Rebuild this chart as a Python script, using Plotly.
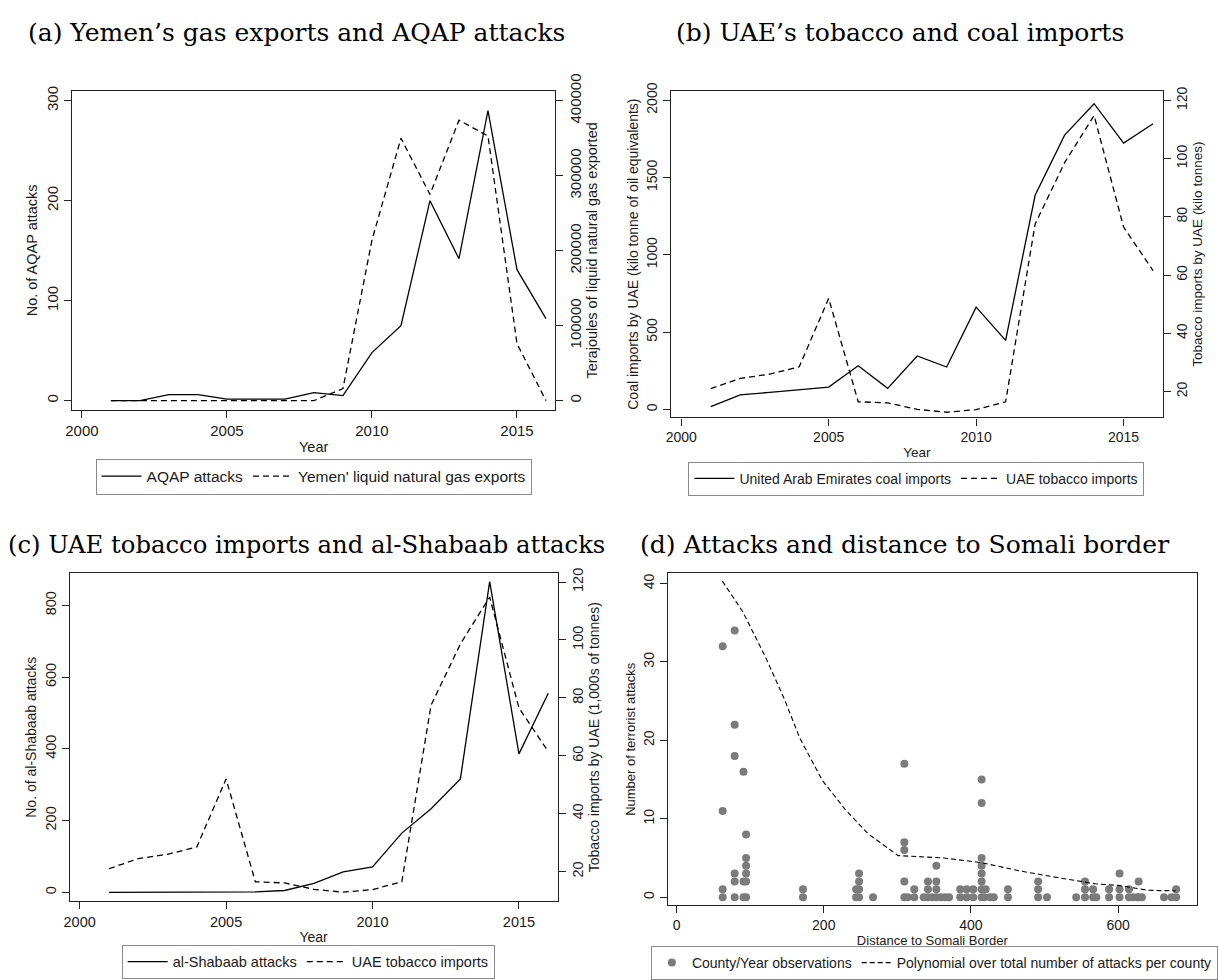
import plotly.graph_objects as go

W, H = 1218, 980

years = list(range(2001, 2017))

# (a) Yemen
aqap_attacks = [0, 0, 6, 6, 1.5, 1.5, 1.5, 8, 5, 48, 75, 200, 142, 290, 131, 82]
yemen_lng = [0, 0, 0, 0, 0, 0, 0, 0, 16000, 214000, 350000, 275000, 374000, 353000, 76000, 0]

# (b) UAE coal / tobacco
uae_coal = [17, 94, 110, 125, 144, 282, 136, 345, 274, 661, 446, 1385, 1774, 1977, 1722, 1847]
uae_tobacco = [21.0, 24.5, 26.0, 28.5, 52.0, 16.5, 16.1, 13.9, 12.9, 13.8, 16.5, 77.5, 98.6, 114.8, 76.5, 61.5]

# (c) al-Shabaab
shabaab_attacks = [0, 0, 0, 0, 0, 1, 5, 25, 57, 71, 165, 233, 316, 866, 386, 555]

# (d) scatter: distance to Somali border vs attacks
obs_dist = [62.7, 62.7, 62.7, 62.7,
            79, 79, 79, 79, 79, 79,
            91, 91, 91,
            94.5, 94.5, 94.5, 94.5, 94.5, 94.5,
            171.8, 171.8,
            244, 244, 248, 248, 248, 248,
            267,
            309.5, 309.5, 309.5, 309.5, 309.5, 314,
            323, 323,
            335.8, 341.6, 341.6, 341.6, 347.3, 353, 353, 353, 353, 359.2, 364.9, 370.2,
            385.4, 385.4, 394.2, 394.2, 403.1, 403.1,
            414.5, 414.5, 414.5, 414.5, 414.5, 414.5, 414.5, 414.5,
            418, 420, 426, 431,
            450.3, 450.3,
            491.3, 491.3, 491.3, 503.3,
            543, 555, 555, 555, 566, 566, 570.4,
            587.7, 587.7, 601.9, 601.9, 601.9, 614.7, 614.7,
            620.5, 626.2, 627.9, 627.9, 632.3,
            662.3, 672.5, 678.8, 678.8]
obs_attacks = [0, 1, 11, 32,
               0, 2, 3, 18, 22, 34,
               0, 2, 16,
               0, 2, 3, 4, 5, 8,
               0, 1,
               0, 1, 0, 1, 2, 3,
               0,
               0, 2, 6, 7, 17, 0,
               0, 1,
               0, 0, 1, 2, 0, 0, 1, 2, 4, 0, 0, 0,
               0, 1, 0, 1, 0, 1,
               0, 1, 2, 3, 4, 5, 12, 15,
               0, 1, 0, 0,
               0, 1,
               0, 1, 2, 0,
               0, 0, 1, 2, 0, 1, 0,
               0, 1, 0, 1, 3, 0, 1,
               0, 0, 0, 2, 0,
               0, 0, 0, 1]

poly_dist = [62.3, 90, 121, 146.8, 167.4, 198, 229, 260, 301, 363, 414.5, 466, 517.5, 569, 600, 641, 678]
poly_attacks = [40.3, 36.4, 30.6, 25.2, 20.3, 14.9, 11.2, 8.1, 5.3, 5.0, 4.4, 3.35, 2.5, 1.7, 1.5, 0.87, 0.8]

SANS = "Liberation Sans"
SERIF = "DejaVu Serif"
TXT = "#1a1a1a"


def px(x):
    return x / W


def py(y):
    return 1 - y / H


fig = go.Figure()

solid = dict(color="black", width=1.3)
dashed = dict(color="black", width=1.3, dash="6px,4px")

# (a)
fig.add_trace(go.Scatter(x=years, y=aqap_attacks, mode="lines", line=solid, name="AQAP attacks",
                         xaxis="x", yaxis="y", legend="legend"))
fig.add_trace(go.Scatter(x=years, y=yemen_lng, mode="lines", line=dashed,
                         name="Yemen' liquid natural gas exports", xaxis="x", yaxis="y2", legend="legend"))
# (b)
fig.add_trace(go.Scatter(x=years, y=uae_coal, mode="lines", line=solid,
                         name="United Arab Emirates coal imports", xaxis="x2", yaxis="y3", legend="legend2"))
fig.add_trace(go.Scatter(x=years, y=uae_tobacco, mode="lines", line=dashed,
                         name="UAE tobacco imports", xaxis="x2", yaxis="y4", legend="legend2"))
# (c)
fig.add_trace(go.Scatter(x=years, y=shabaab_attacks, mode="lines", line=solid,
                         name="al-Shabaab attacks", xaxis="x3", yaxis="y5", legend="legend3"))
fig.add_trace(go.Scatter(x=years, y=uae_tobacco, mode="lines", line=dashed,
                         name="UAE tobacco imports", xaxis="x3", yaxis="y6", legend="legend3"))
# (d)
fig.add_trace(go.Scatter(x=obs_dist, y=obs_attacks, mode="markers",
                         marker=dict(color="#7b7b7b", size=8, line=dict(width=0)),
                         name="County/Year observations", xaxis="x4", yaxis="y7", legend="legend4"))
fig.add_trace(go.Scatter(x=poly_dist, y=poly_attacks, mode="lines",
                         line=dict(color="black", width=1.1, dash="5px,3px"),
                         name="Polynomial over total number of attacks per county",
                         xaxis="x4", yaxis="y7", legend="legend4"))


def xax(domain, anchor, rng, tickvals, title, fs_tick, fs_title):
    return dict(domain=domain, anchor=anchor, range=rng, tickvals=tickvals,
                showgrid=False, zeroline=False, showline=True, linecolor="#222", linewidth=1.3,
                mirror=True, ticks="outside", ticklen=7, tickcolor="#222", tickwidth=1.2,
                tickfont=dict(family=SANS, size=fs_tick, color=TXT),
                title=dict(text=title, font=dict(family=SANS, size=fs_title, color=TXT), standoff=3))


def yax(domain, anchor, rng, tickvals, title, fs_tick, fs_title, side="left", overlaying=None):
    d = dict(anchor=anchor, range=rng, tickvals=tickvals, side=side,
             showgrid=False, zeroline=False, showline=True, linecolor="#222", linewidth=1.3,
             mirror=(overlaying is None), ticks="outside", ticklen=7, tickcolor="#222", tickwidth=1.2,
             tickangle=-90, tickformat="d",
             tickfont=dict(family=SANS, size=fs_tick, color=TXT),
             title=dict(text=title, font=dict(family=SANS, size=fs_title, color=TXT), standoff=2))
    if overlaying:
        d["overlaying"] = overlaying
    else:
        d["domain"] = domain
    return d


xa = [px(66.5), px(560.7)]
ya = [py(405), py(76)]
xb = [px(679.3), px(1181.7)]
yb = [py(412.7), py(76)]
xc = [px(64.1), px(563.1)]
yc = [py(911), py(573.3)]
xd = [px(676.2), px(1216.5)]
yd = [py(915.3), py(573.3)]

yr_range = [1999.66, 2016.32]
yr_ticks = [2000, 2005, 2010, 2015]

layout = dict(
    width=W, height=H, margin=dict(l=0, r=0, t=0, b=0),
    paper_bgcolor="white", plot_bgcolor="white",
    xaxis=xax(xa, "y", yr_range, yr_ticks, "Year", 15, 14.5),
    yaxis=yax(ya, "x", [-9.4, 310], [0, 100, 200, 300], "No. of AQAP attacks", 15, 14.5),
    yaxis2=yax(None, "x", [-9.4 * 400000 / 300, 310 * 400000 / 300], [0, 100000, 200000, 300000, 400000],
               "Terajoules of liquid natural gas exported", 15, 14.5, side="right", overlaying="y"),
    xaxis2=xax(xb, "y3", yr_range, yr_ticks, "Year", 14, 13.5),
    yaxis3=yax(yb, "x2", [-52.7, 2061], [0, 500, 1000, 1500, 2000],
               "Coal imports by UAE (kilo tonne of oil equivalents)", 14, 14),
    yaxis4=yax(None, "x2", [11.1, 123.3], [20, 40, 60, 80, 100, 120],
               "Tobacco imports by UAE (kilo tonnes)", 14, 13.5, side="right", overlaying="y3"),
    xaxis3=xax(xc, "y5", yr_range, yr_ticks, "Year", 14.5, 14),
    yaxis5=yax(yc, "x3", [-24.4, 889.3], [0, 200, 400, 600, 800], "No. of al-Shabaab attacks", 14.5, 14),
    yaxis6=yax(None, "x3", [9.85, 123], [20, 40, 60, 80, 100, 120],
               "Tobacco imports by UAE (1,000s of tonnes)", 14.5, 14, side="right", overlaying="y5"),
    xaxis4=xax(xd, "y7", [-11.3, 706.5], [0, 200, 400, 600], "Distance to Somali Border", 14, 13),
    yaxis7=yax(yd, "x4", [-1.03, 41.3], [0, 10, 20, 30, 40], "Number of terrorist attacks", 14, 13),
    showlegend=True,
)


def leg(xc_px, ytop_px, fs, iw=40):
    return dict(x=px(xc_px), y=py(ytop_px), xanchor="center", yanchor="top", orientation="h",
                bordercolor="#8a8a8a", borderwidth=1, bgcolor="white",
                font=dict(family=SANS, size=fs, color=TXT),
                itemwidth=iw, entrywidth=0, tracegroupgap=0)


layout["legend"] = leg(313.5, 455, 15.5)
layout["legend2"] = leg(930, 458.3, 14)
layout["legend3"] = leg(308, 956, 14.5)
layout["legend4"] = leg(948.4, 957.7, 14, iw=30)

fig.update_layout(**layout)

titles = [
    ("(a) Yemen\u2019s gas exports and AQAP attacks", 296, 16, 25),
    ("(b) UAE\u2019s tobacco and coal imports", 913, 16, 25),
    ("(c) UAE tobacco imports and al-Shabaab attacks", 306, 544, 24.3),
    ("(d) Attacks and distance to Somali border", 918, 544, 25),
]
for text, cx, cy, fs in titles:
    fig.add_annotation(text=text, x=px(cx), y=py(cy), xref="paper", yref="paper",
                       xanchor="center", yanchor="middle", showarrow=False,
                       font=dict(family=SERIF, size=fs, color="black"))

fig.write_html("out.html")
